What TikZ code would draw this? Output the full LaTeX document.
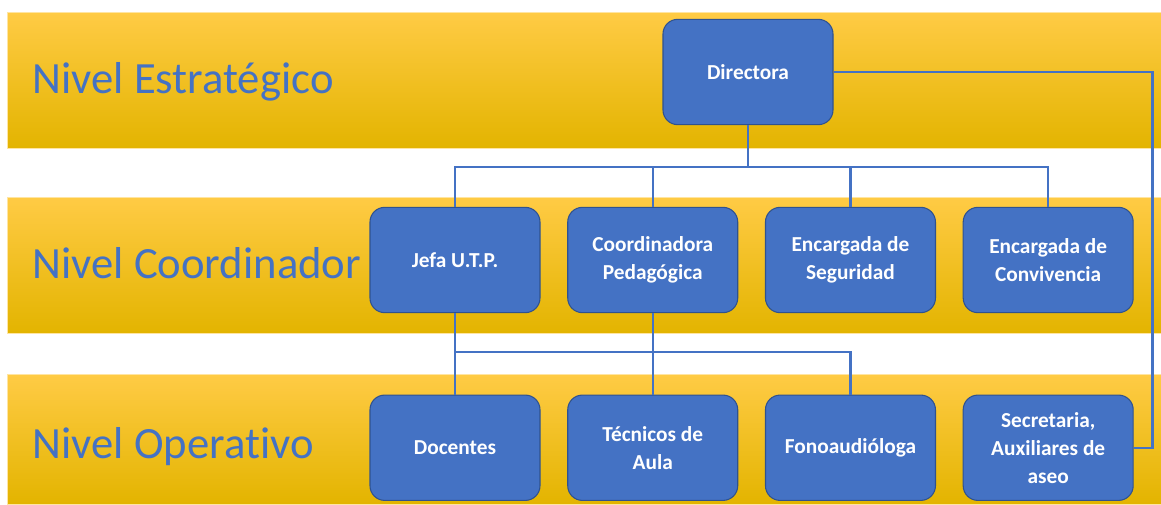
\documentclass[tikz,border=0pt]{standalone}
\usepackage{fontspec}
\setmainfont{Carlito}[Ligatures=NoCommon]
\usetikzlibrary{positioning}
\definecolor{boxblue}{HTML}{4472C4}
\definecolor{boxedge}{HTML}{2F528F}
\definecolor{bandtop}{HTML}{FFCB45}
\definecolor{bandmid}{HTML}{FFC000}
\definecolor{bandbot}{HTML}{E3B400}

\begin{document}
\begin{tikzpicture}[x=0.75pt, y=-0.75pt,
			band/.style={top color=bandtop, middle color=bandmid, bottom color=bandbot, draw=bandtop!50!white, line width=0.6pt},
			level/.style={anchor=base west, text=boxblue, font=\fontsize{33.5}{36}\selectfont},
			box/.style={rectangle, rounded corners=11pt, fill=boxblue, draw=boxedge, line width=0.8pt, minimum width=127.5pt, minimum height=79pt, inner sep=2pt, text=white, align=center, font=\bfseries\fontsize{16}{21}\selectfont},
			link/.style={draw=boxblue, line width=1.6pt}]
			\useasboundingbox (0,0) rectangle (1161,504);
			\path[band] (7,12) rectangle (1161,148);
			\path[band] (7,197) rectangle (1161,333);
			\path[band] (7,374) rectangle (1161,504);
			\node[level] (lvl1) at (28,93) {Nivel Estratégico};
			\node[level] (lvl2) at (28,278) {Nivel Coordinador};
			\node[level] (lvl3) at (28,458) {Nivel Operativo};
			\node[box] (dir) at (748,72) {Directora};
			\node[box] (jefa) at (455,260) {Jefa U.T.P.};
			\node[box] (coord) [right=20pt of jefa] {Coordinadora\\Pedagógica};
			\node[box] (seg) [right=20pt of coord] {Encargada de\\Seguridad};
			\node[box] (conv) [right=20pt of seg] {Encargada de\\Convivencia};
			\node[box] (doc) [below=61pt of jefa] {Docentes};
			\node[box] (tec) [below=61pt of coord] {Técnicos de\\Aula};
			\node[box] (fono) [below=61pt of seg] {Fonoaudióloga};
			\node[box] (sec) [below=61pt of conv] {Secretaria,\\Auxiliares de\\aseo};
			\foreach \n in {jefa,coord,seg,conv}
				\draw[link] (dir.south) -- ++(0,42) -| (\n.north);
			\foreach \n in {doc,tec,fono}
				\draw[link] (jefa.south) -- ++(0,39) -| (\n.north);
			\draw[link] (coord.south) -- (tec.north);
			\draw[link] (dir.east) -- ++(319,0) |- (sec.east);
		\end{tikzpicture}
\end{document}
